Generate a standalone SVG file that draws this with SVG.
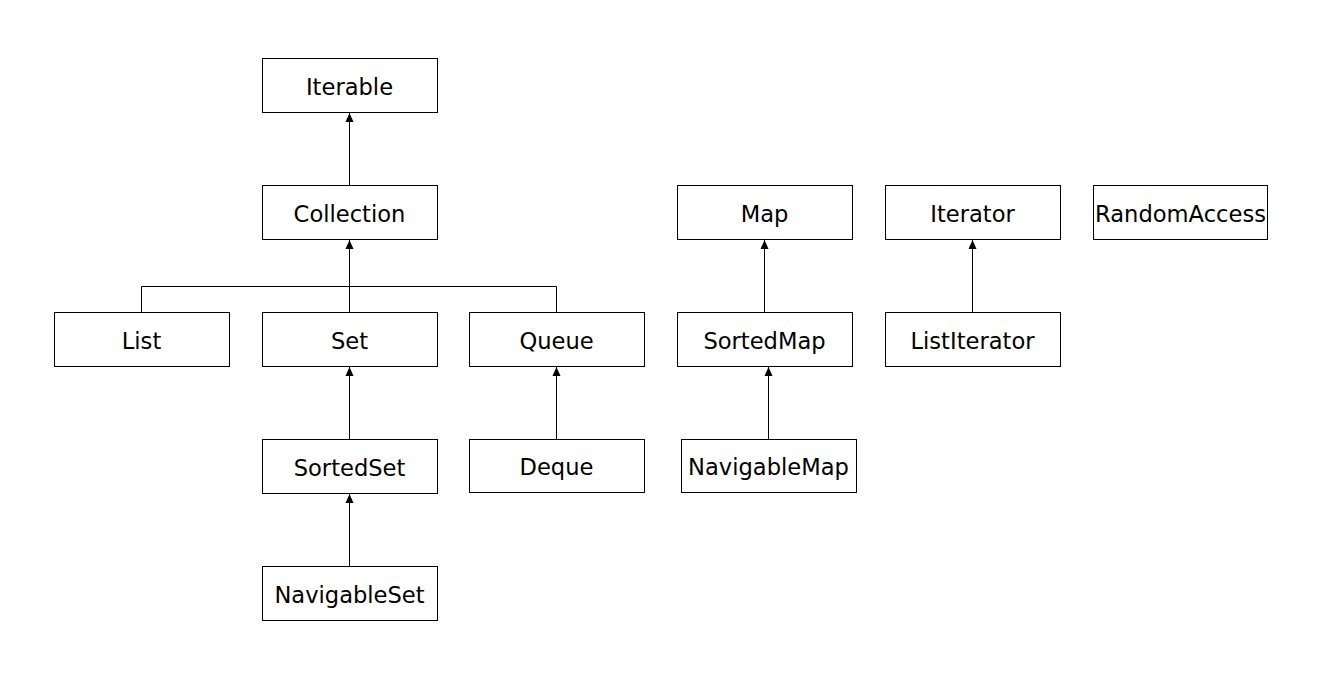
<svg xmlns="http://www.w3.org/2000/svg" width="1323" height="680" viewBox="0 0 1323 680">
<style>
.box{fill:#fff;stroke:#000;stroke-width:1}
.lbl{font-family:"DejaVu Sans",sans-serif;font-size:22.6px;fill:#000;text-anchor:middle}
.edge{fill:none;stroke:#000;stroke-width:1}
</style>
<defs>
<marker id="arr" markerWidth="8" markerHeight="10" refX="4" refY="0" orient="0" markerUnits="userSpaceOnUse" viewBox="0 0 8 10" overflow="visible">
<path d="M0,9 L4,0 L8,9 Z" fill="#000"/>
</marker>
</defs>
<rect width="1323" height="680" fill="#fff"/>
<g id="connectors">
<path class="edge" d="M349.5,185 V113" marker-end="url(#arr)"/>
<path class="edge" d="M349.5,312 V240" marker-end="url(#arr)"/>
<path class="edge" d="M141.5,312 V286.5 H556.5 V312"/>
<path class="edge" d="M349.5,439 V367" marker-end="url(#arr)"/>
<path class="edge" d="M349.5,566 V494" marker-end="url(#arr)"/>
<path class="edge" d="M556.5,439 V367" marker-end="url(#arr)"/>
<path class="edge" d="M764.5,312 V240" marker-end="url(#arr)"/>
<path class="edge" d="M768.5,439 V367" marker-end="url(#arr)"/>
<path class="edge" d="M972.5,312 V240" marker-end="url(#arr)"/>
</g>
<g id="iterable"><rect class="box" x="262.5" y="58.5" width="175" height="54"/><text class="lbl" x="349.5" y="95">Iterable</text></g>
<g id="collection"><rect class="box" x="262.5" y="185.5" width="175" height="54"/><text class="lbl" x="349.5" y="222">Collection</text></g>
<g id="list"><rect class="box" x="54.5" y="312.5" width="175" height="54"/><text class="lbl" x="141.5" y="349">List</text></g>
<g id="set"><rect class="box" x="262.5" y="312.5" width="175" height="54"/><text class="lbl" x="349.5" y="349">Set</text></g>
<g id="queue"><rect class="box" x="469.5" y="312.5" width="175" height="54"/><text class="lbl" x="556.5" y="349">Queue</text></g>
<g id="sortedset"><rect class="box" x="262.5" y="439.5" width="175" height="54"/><text class="lbl" x="349.5" y="476">SortedSet</text></g>
<g id="deque"><rect class="box" x="469.5" y="439.5" width="175" height="53"/><text class="lbl" x="556.5" y="475">Deque</text></g>
<g id="navigableset"><rect class="box" x="262.5" y="566.5" width="175" height="54"/><text class="lbl" x="349.5" y="603">NavigableSet</text></g>
<g id="map"><rect class="box" x="677.5" y="185.5" width="175" height="54"/><text class="lbl" x="764.5" y="222">Map</text></g>
<g id="sortedmap"><rect class="box" x="677.5" y="312.5" width="175" height="54"/><text class="lbl" x="764.5" y="349">SortedMap</text></g>
<g id="navigablemap"><rect class="box" x="681.5" y="439.5" width="175" height="53"/><text class="lbl" x="768.5" y="475">NavigableMap</text></g>
<g id="iterator"><rect class="box" x="885.5" y="185.5" width="175" height="54"/><text class="lbl" x="972.5" y="222">Iterator</text></g>
<g id="listiterator"><rect class="box" x="885.5" y="312.5" width="175" height="54"/><text class="lbl" x="972.5" y="349">ListIterator</text></g>
<g id="randomaccess"><rect class="box" x="1093.5" y="185.5" width="174" height="54"/><text class="lbl" x="1180.5" y="222">RandomAccess</text></g>
</svg>
